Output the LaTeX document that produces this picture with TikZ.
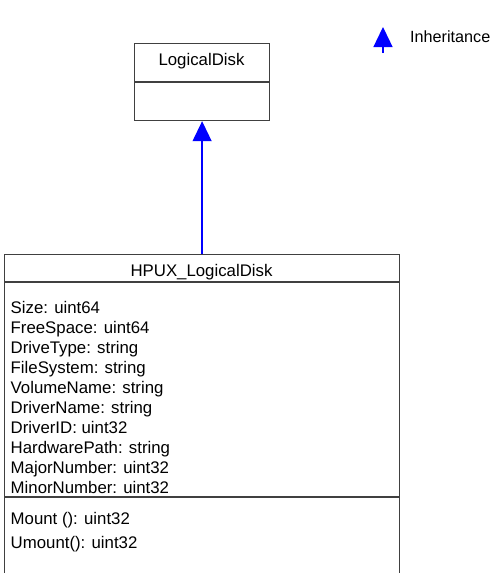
\documentclass[tikz,border=0pt]{standalone}
\usepackage{fontspec}
\setmainfont{Liberation Sans}
\usetikzlibrary{arrows.meta}

\begin{document}
\begin{tikzpicture}[x=1pt,y=-1pt,
    classbox/.style={draw=black!75,line width=1.2pt,inner sep=0pt,anchor=north west},
    inherit/.style={draw=blue,line width=1.3pt,-{Triangle[width=19pt,length=20pt]},fill=blue}]
\useasboundingbox (0,0) rectangle (495,573);
\clip (0,0) rectangle (495,573);
\begin{scope}[every node/.style={font=\fontsize{16.8}{20}\selectfont,inner sep=0pt}]
    % base class
    \node[classbox,minimum width=135,minimum height=77] (base) at (134,43) {};
    \node[anchor=base] (basetitle) at (201.5,65.7) {LogicalDisk};
    % derived class
    \node[classbox,minimum width=395,minimum height=340] (derived) at (4,254) {};
    \node[anchor=base] (derivedtitle) at (201.5,276.7) {HPUX\_LogicalDisk};
    \node[anchor=base west] (a1) at (10.5,313) {Size: uint64};
    \node[anchor=base west] (a2) at (10.5,333.1) {FreeSpace: uint64};
    \node[anchor=base west] (a3) at (10.5,353.2) {DriveType: string};
    \node[anchor=base west] (a4) at (10.5,373.3) {FileSystem: string};
    \node[anchor=base west] (a5) at (10.5,393.4) {VolumeName: string};
    \node[anchor=base west] (a6) at (10.5,413.5) {DriverName: string};
    \node[anchor=base west] (a7) at (10.5,433.6) {DriverID: uint32};
    \node[anchor=base west] (a8) at (10.5,453.7) {HardwarePath: string};
    \node[anchor=base west] (a9) at (10.5,473.8) {MajorNumber: uint32};
    \node[anchor=base west] (a10) at (10.5,493.9) {MinorNumber: uint32};
    \node[anchor=base west] (m1) at (10.5,524.5) {Mount (): uint32};
    \node[anchor=base west] (m2) at (10.5,548) {Umount(): uint32};
    % legend
    \node[anchor=west,font=\fontsize{16.2}{19}\selectfont] (legend) at (410,37) {Inheritance};
\end{scope}
\begin{scope}[every path/.style={draw=black!75,line width=1.2pt}]
    \draw (base.west |- 0,82) -- (base.east |- 0,82);
    \draw (derived.west |- 0,282) -- (derived.east |- 0,282);
    \draw (derived.west |- 0,497) -- (derived.east |- 0,497);
\end{scope}
\coordinate (legtail) at (383,53);
\coordinate (leghead) at (383,27);
\draw[inherit] (derived.north) -- (base.south);
\draw[inherit] (legtail) -- (leghead);
\end{tikzpicture}
\end{document}
